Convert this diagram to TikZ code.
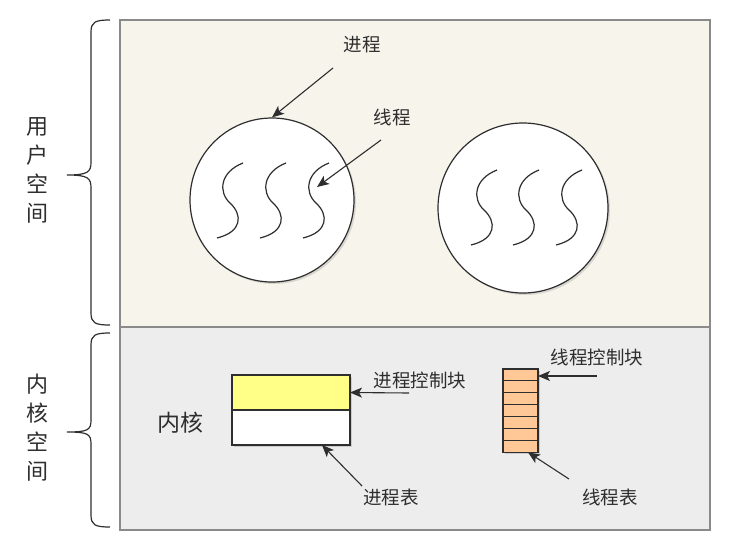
\documentclass[tikz,border=0pt]{standalone}
\usepackage{fontspec}
\setmainfont{Noto Sans CJK SC}
\usetikzlibrary{arrows.meta,shadows,decorations.pathreplacing}
\definecolor{userbg}{HTML}{F7F4EC}
\definecolor{kernbg}{HTML}{EDEDED}
\definecolor{frame}{HTML}{8A8A8A}
\definecolor{pcb}{HTML}{FFFF88}
\definecolor{tcb}{HTML}{FFC896}
\definecolor{ink}{HTML}{2E2E2E}
\tikzset{
  area/.style={draw=frame,line width=1.1pt},
  proc/.style={circle,draw=ink,fill=white,line width=1.2pt,minimum size=#1,inner sep=0pt,
    drop shadow={shadow xshift=2pt,shadow yshift=-2pt,opacity=0.25}},
  thr/.style={draw=ink,line width=1.2pt},
  lbl/.style={font=\fontsize{18.5}{18.5}\selectfont,text=ink,inner sep=1pt},
  side/.style={font=\fontsize{22}{29}\selectfont,text=ink,align=center,inner sep=0pt},
  ptr/.style={draw=ink,line width=1.1pt,-{Stealth[length=12pt,width=10pt,inset=3pt]}},
  brc/.style={draw=ink,line width=1.2pt},
  cellbox/.style={draw=ink,line width=1.1pt,minimum width=#1,inner sep=0pt,outer sep=0pt,
    drop shadow={shadow xshift=2pt,shadow yshift=-2pt,opacity=0.3}},
}
\begin{document}
\begin{tikzpicture}[x=1pt,y=-1pt]
\useasboundingbox (0,0) rectangle (749,554);
% areas
\path[area,fill=userbg] (120,20) rectangle (710,327);
\path[area,fill=kernbg] (120,327) rectangle (710,530);
% braces
\draw[brc] (110,20) .. controls (95,20) and (91,22) .. (91,32) -- (91,162) .. controls (91,172) and (88,175) .. (67,175)
  .. controls (88,175) and (91,178) .. (91,188) -- (91,313) .. controls (91,323) and (95,325) .. (110,325);
\draw[brc] (110,333) .. controls (95,333) and (91,335) .. (91,345) -- (91,420) .. controls (91,430) and (88,432) .. (67,432)
  .. controls (88,432) and (91,434) .. (91,444) -- (91,515) .. controls (91,525) and (95,527) .. (110,527);
\node[side] (us) at (38,170) {用\\户\\空\\间};
\node[side] (ks) at (38,428) {内\\核\\空\\间};
% processes
\node[proc=164pt] (p1) at (272,200) {};
\node[proc=170pt] (p2) at (523,208) {};
\foreach \dx/\dy in {0/0,43/0,86/0,254/7,296/7,339/7}{
  \begin{scope}[shift={(\dx,\dy)}]
  \draw[thr] (243,163) .. controls (220,172) and (218,192) .. (230,203)
     .. controls (243,215) and (242,232) .. (217,238);
  \end{scope}
}
\coordinate (t3) at (317,187);
\node[lbl] (lp) at (362,45) {进程};
\node[lbl] (lt) at (392,117) {线程};
\coordinate (lps) at (333,68);
\coordinate (lts) at (381,140);
\draw[ptr] (lps) -- (p1.north);
\draw[ptr] (lts) -- (t3);
% kernel
\node[font=\fontsize{23}{23}\selectfont,text=ink] (kn) at (180,423) {内核};
\node[cellbox=118pt,minimum height=35pt,fill=pcb,anchor=north west] (pcbx) at (232,375) {};
\node[cellbox=118pt,minimum height=35pt,fill=white,anchor=north west] (ptab) at (232,410) {};
\node[lbl] (lpcb) at (420,380) {进程控制块};
\node[lbl] (lptab) at (391,497) {进程表};
\coordinate (a1) at (409,393);
\coordinate (a2) at (362,486);
\draw[ptr] (a1) -- (pcbx.east);
\draw[ptr] (a2) -- ([xshift=-28pt]ptab.south east);
% thread table
\foreach \i in {0,...,6}{
  \node[cellbox=35pt,minimum height=11.9pt,fill=tcb,anchor=north west] (c\i) at (503,{369+11.9*\i}) {};
}
\node[lbl] (ltcb) at (597,357) {线程控制块};
\node[lbl] (lttab) at (610,497) {线程表};
\coordinate (b1) at (597,376);
\coordinate (b2) at (569,479);
\draw[ptr] (b1) -- (b1 -| c0.east);
\draw[ptr] (b2) -- ([xshift=-10pt]c6.south east);
\end{tikzpicture}
\end{document}
